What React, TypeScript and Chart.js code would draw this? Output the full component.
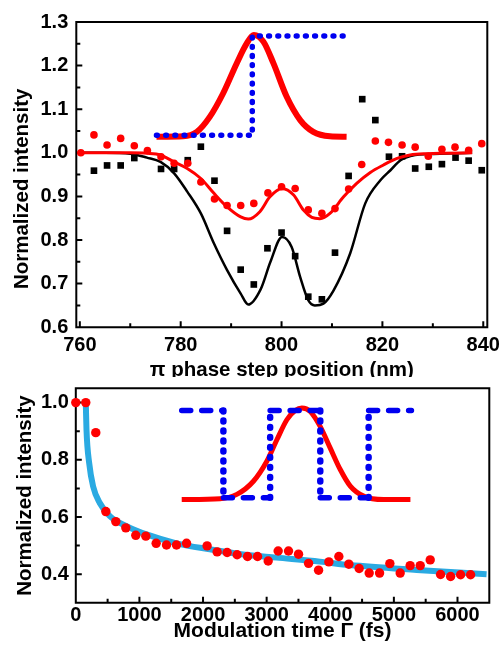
import React, { useEffect, useRef } from 'react';
import { Chart, registerables } from 'chart.js';

Chart.register(...registerables);

const FONT = "'Liberation Sans', Arial, sans-serif";
const RED = '#ff0000';
const BLUE = '#0000f0';
const CYAN = '#2aaae2';

// ---------- Top panel ----------
const topXTicks = [760, 770, 780, 790, 800, 810, 820, 830, 840];
const topXLabels = [760, 780, 800, 820, 840];
const topYTicks = [0.6, 0.65, 0.7, 0.75, 0.8, 0.85, 0.9, 0.95, 1.0, 1.05, 1.1, 1.15, 1.2, 1.25, 1.3];
const topYLabels = [0.6, 0.7, 0.8, 0.9, 1.0, 1.1, 1.2, 1.3];

const topRedX = [760.2, 762.8, 765.4, 768.1, 770.8, 773.4, 776.1, 778.7, 781.4, 784.0, 786.7, 789.2, 791.9, 794.5, 797.3, 800.0, 802.7, 805.3, 808.0, 810.6, 813.3, 815.9, 818.6, 821.2, 823.9, 826.5, 829.1, 831.8, 834.4, 837.1, 839.7];
const topRedY = [1.0, 1.041, 1.018, 1.033, 1.016, 1.005, 0.991, 0.976, 0.976, 0.933, 0.894, 0.879, 0.879, 0.884, 0.908, 0.922, 0.918, 0.869, 0.861, 0.872, 0.917, 0.973, 1.027, 1.024, 1.018, 1.013, 0.992, 1.008, 1.013, 1.006, 1.021];

const topBlackX = [762.8, 765.4, 768.1, 770.8, 776.1, 778.7, 781.4, 784.0, 786.7, 789.2, 791.9, 794.5, 797.2, 800.0, 802.7, 805.3, 808.0, 810.6, 813.3, 816.0, 818.6, 821.3, 823.9, 826.5, 829.2, 831.8, 834.5, 837.1, 839.7];
const topBlackY = [0.959, 0.971, 0.971, 0.988, 0.963, 0.963, 0.983, 1.014, 0.936, 0.821, 0.732, 0.698, 0.781, 0.817, 0.763, 0.670, 0.664, 0.771, 0.947, 1.123, 1.075, 0.991, 0.992, 0.964, 0.968, 0.974, 0.989, 0.982, 0.960];

const topRedFitX = [760.2, 765, 770, 773.3, 776, 778.7, 781.3, 784, 786.6, 789.2, 791.9, 793.4, 795.7, 797.7, 800.1, 802.4, 804.3, 806, 807.6, 809.6, 812.3, 814.9, 817.6, 820.2, 822.9, 825.5, 829, 832.2, 837.8];
const topRedFitY = [1.0, 1.0, 1.0, 0.999, 0.995, 0.979, 0.964, 0.941, 0.907, 0.876, 0.853, 0.848, 0.865, 0.899, 0.918, 0.903, 0.869, 0.852, 0.849, 0.861, 0.899, 0.930, 0.955, 0.972, 0.987, 0.995, 0.998, 0.999, 1.0];

const topBlackFitX = [760.2, 765, 770, 773.3, 776, 778.7, 781.3, 784, 786.6, 789.2, 791.9, 793.4, 795.9, 797.8, 800.1, 802, 803.7, 805.3, 806.6, 808.3, 810.3, 813.6, 816.6, 819.6, 821.6, 823.6, 826.5, 829, 837.8];
const topBlackFitY = [1.0, 1.0, 0.998, 0.989, 0.979, 0.953, 0.911, 0.861, 0.792, 0.731, 0.677, 0.652, 0.688, 0.75, 0.807, 0.784, 0.715, 0.662, 0.650, 0.654, 0.684, 0.769, 0.884, 0.937, 0.960, 0.983, 0.995, 0.997, 1.0];

const topInsetPulseX = [775.2, 780.5, 783.2, 785.8, 788.4, 791.1, 793.1, 794.5, 796.4, 798.4, 801.0, 803.7, 806.3, 809.6, 812.9];
const topInsetPulseY = [1.037, 1.038, 1.048, 1.083, 1.136, 1.205, 1.251, 1.270, 1.255, 1.205, 1.129, 1.075, 1.048, 1.038, 1.037];
const topInsetStepX = [775.2, 794.2, 794.2, 813.1];
const topInsetStepY = [1.040, 1.040, 1.268, 1.268];

// ---------- Bottom panel ----------
const botXTicks = [0, 500, 1000, 1500, 2000, 2500, 3000, 3500, 4000, 4500, 5000, 5500, 6000, 6500];
const botXLabels = [0, 1000, 2000, 3000, 4000, 5000, 6000];
const botYTicks = [0.3, 0.4, 0.5, 0.6, 0.7, 0.8, 0.9, 1.0];
const botYLabels = [0.4, 0.6, 0.8, 1.0];

const botX = [0, 157, 314, 472, 629, 786, 943, 1101, 1263, 1426, 1583, 1741, 2064, 2222, 2379, 2536, 2700, 2857, 3024, 3181, 3344, 3501, 3659, 3816, 3978, 4135, 4292, 4454, 4612, 4775, 4937, 5099, 5256, 5414, 5571, 5734, 5892, 6049, 6206];
const botY = [1.0, 1.0, 0.895, 0.619, 0.584, 0.562, 0.536, 0.533, 0.508, 0.502, 0.502, 0.508, 0.499, 0.478, 0.476, 0.468, 0.462, 0.462, 0.446, 0.481, 0.481, 0.470, 0.438, 0.414, 0.443, 0.462, 0.435, 0.420, 0.404, 0.404, 0.437, 0.404, 0.430, 0.430, 0.450, 0.399, 0.392, 0.398, 0.398];

const botFitX = [157, 168, 210, 272, 377, 535, 797, 1111, 1583, 2107, 2631, 3156, 3836, 4308, 5357, 6457];
const botFitY = [1.0, 0.905, 0.789, 0.707, 0.649, 0.603, 0.568, 0.539, 0.508, 0.487, 0.469, 0.458, 0.444, 0.432, 0.415, 0.40];

const botInsetPulseX = [1665, 2268, 2531, 2792, 3003, 3161, 3318, 3449, 3554, 3685, 3843, 4000, 4157, 4315, 4524, 4839, 5260];
const botInsetPulseY = [0.661, 0.664, 0.679, 0.725, 0.795, 0.870, 0.940, 0.972, 0.981, 0.969, 0.916, 0.841, 0.766, 0.708, 0.673, 0.661, 0.661];
// horizontal parts of the modulation (null = break)
const botInsetHX = [1665, 2320, null, 2320, 3055, null, 3055, 3843, null, 3843, 4603, null, 4603, 5276];
const botInsetHY = [0.972, 0.972, null, 0.667, 0.667, null, 0.972, 0.972, null, 0.667, 0.667, null, 0.972, 0.972];
// vertical parts
const botInsetVX = [2320, 2320, null, 3055, 3055, null, 3843, 3843, null, 4603, 4603];
const botInsetVY = [0.972, 0.667, null, 0.667, 0.972, null, 0.972, 0.667, null, 0.667, 0.972];

function pts(xs: (number | null)[], ys: (number | null)[]) {
  return xs.map((x, i) => ({ x: x === null ? NaN : x, y: ys[i] === null ? null : ys[i] }));
}

function framePlugin(xTicks: number[], xMajor: number[], yTicks: number[], yMajor: number[]) {
  return {
    id: 'frameTicks',
    beforeDatasetsDraw(chart: any) {
      const { ctx, chartArea: a, scales } = chart;
      ctx.save();
      ctx.strokeStyle = '#000';
      ctx.lineWidth = 2;
      ctx.beginPath();
      ctx.rect(a.left, a.top, a.right - a.left, a.bottom - a.top);
      for (const v of xTicks) {
        const p = scales.x.getPixelForValue(v);
        const L = xMajor.includes(v) ? 6 : 4;
        ctx.moveTo(p, a.bottom);
        ctx.lineTo(p, a.bottom - L);
      }
      for (const v of yTicks) {
        const p = scales.y.getPixelForValue(v);
        const L = yMajor.includes(v) ? 6 : 4;
        ctx.moveTo(a.left, p);
        ctx.lineTo(a.left + L, p);
      }
      ctx.stroke();
      ctx.restore();
    },
  };
}

function axis(opts: {
  min: number; max: number; ticks: number[]; labels: number[]; fmt: (v: number) => string;
  size: number; isX: boolean; padding: number; title: string; titleSize: number; titlePad: any;
}) {
  return {
    type: 'linear' as const,
    min: opts.min,
    max: opts.max,
    bounds: 'data' as const,
    afterBuildTicks: (s: any) => { s.ticks = opts.ticks.map((value) => ({ value })); },
    afterFit: (s: any) => {
      if (opts.isX) { s.height = opts.size; s.paddingLeft = 0; s.paddingRight = 0; }
      else { s.width = opts.size; s.paddingTop = 0; s.paddingBottom = 0; }
    },
    grid: { display: false, drawTicks: false },
    border: { display: false },
    ticks: {
      autoSkip: false,
      maxRotation: 0,
      minRotation: 0,
      padding: opts.padding,
      color: '#000',
      font: { family: FONT, size: 20, weight: 'bold' as const },
      callback: (v: any) => (opts.labels.includes(v) ? opts.fmt(v) : ''),
    },
    title: {
      display: true,
      text: opts.title,
      color: '#000',
      font: { family: FONT, size: opts.titleSize, weight: 'bold' as const },
      padding: opts.titlePad,
    },
  };
}

export default function App() {
  const topRef = useRef<HTMLCanvasElement>(null);
  const botRef = useRef<HTMLCanvasElement>(null);

  useEffect(() => {
    const line = (data: any, color: string, width: number, extra: any = {}) => ({
      data, showLine: true, borderColor: color, backgroundColor: color, borderWidth: width,
      pointRadius: 0, cubicInterpolationMode: 'monotone', fill: false, ...extra,
    });
    const dots = (data: any, color: string, r: number, style: string) => ({
      data, showLine: false, pointStyle: style, pointRadius: r, pointBackgroundColor: color,
      pointBorderWidth: 0, pointBorderColor: color, clip: false,
    });
    const dotted = (data: any, width: number, gap: number) => line(data, BLUE, width, {
      cubicInterpolationMode: 'default', tension: 0, borderDash: [0.8, gap], borderCapStyle: 'round', borderJoinStyle: 'round', spanGaps: false,
    });

    const top = new Chart(topRef.current!, {
      type: 'scatter',
      data: {
        datasets: [
          dots(pts(topRedX, topRedY), RED, 3.8, 'circle'),
          line(pts(topRedFitX, topRedFitY), RED, 3),
          dots(pts(topBlackX, topBlackY), '#000', 4.7, 'rect'),
          line(pts(topBlackFitX, topBlackFitY), '#000', 2.5),
          dotted(pts(topInsetStepX, topInsetStepY), 5.5, 8.4),
          line(pts(topInsetPulseX, topInsetPulseY), RED, 6),
        ] as any,
      },
      options: {
        animation: false,
        responsive: false,
        devicePixelRatio: 1,
        events: [],
        layout: { padding: { left: 0, top: 22, right: 13.7, bottom: 0 } },
        plugins: { legend: { display: false }, tooltip: { enabled: false } },
        scales: {
          x: axis({ min: 759.3, max: 840.8, ticks: topXTicks, labels: topXLabels, fmt: (v) => String(v), size: 49.8, isX: true, padding: 6, title: 'π phase step position (nm)', titleSize: 20.5, titlePad: { top: 0, bottom: -6 } }),
          y: axis({ min: 0.6, max: 1.3, ticks: topYTicks, labels: topYLabels, fmt: (v) => v.toFixed(1), size: 76.3, isX: false, padding: 8, title: 'Normalized intensity     ', titleSize: 20.5, titlePad: { top: 10.4, bottom: 0 } }),
        } as any,
      },
      plugins: [framePlugin(topXTicks, topXLabels, topYTicks, topYLabels)],
    });

    const bot = new Chart(botRef.current!, {
      type: 'scatter',
      data: {
        datasets: [
          dots(pts(botX, botY), RED, 4.7, 'circle'),
          line(pts(botFitX, botFitY), CYAN, 6),
          dotted(pts(botInsetVX, botInsetVY), 6.5, 9.2),
          line(pts(botInsetHX, botInsetHY), BLUE, 5.5, { cubicInterpolationMode: 'default', tension: 0, borderDash: [9, 11], borderCapStyle: 'round', spanGaps: false }),
          line(pts(botInsetPulseX, botInsetPulseY), RED, 5),
        ] as any,
      },
      options: {
        animation: false,
        responsive: false,
        devicePixelRatio: 1,
        events: [],
        layout: { padding: { left: 0, top: 11.3, right: 11.7, bottom: 0 } },
        plugins: { legend: { display: false }, tooltip: { enabled: false } },
        scales: {
          x: axis({ min: 0, max: 6500, ticks: botXTicks, labels: botXLabels, fmt: (v) => String(v), size: 44.2, isX: true, padding: 1, title: 'Modulation time Γ (fs)', titleSize: 21, titlePad: { top: 0, bottom: 3.4 } }),
          y: axis({ min: 0.3, max: 1.05, ticks: botYTicks, labels: botYLabels, fmt: (v) => v.toFixed(1), size: 75.8, isX: false, padding: 7, title: 'Normalized intensity', titleSize: 20.5, titlePad: { top: 13, bottom: 0 } }),
        } as any,
      },
      plugins: [framePlugin(botXTicks, botXLabels, botYTicks, botYLabels)],
    });

    return () => { top.destroy(); bot.destroy(); };
  }, []);

  return (
    <div style={{ position: 'fixed', left: 0, top: 0, width: 501, height: 647, background: '#fff', overflow: 'hidden' }}>
      <canvas ref={topRef} width={501} height={377} style={{ position: 'absolute', left: 0, top: 0, width: 501, height: 377 }} />
      <canvas ref={botRef} width={501} height={270} style={{ position: 'absolute', left: 0, top: 377, width: 501, height: 270 }} />
    </div>
  );
}
